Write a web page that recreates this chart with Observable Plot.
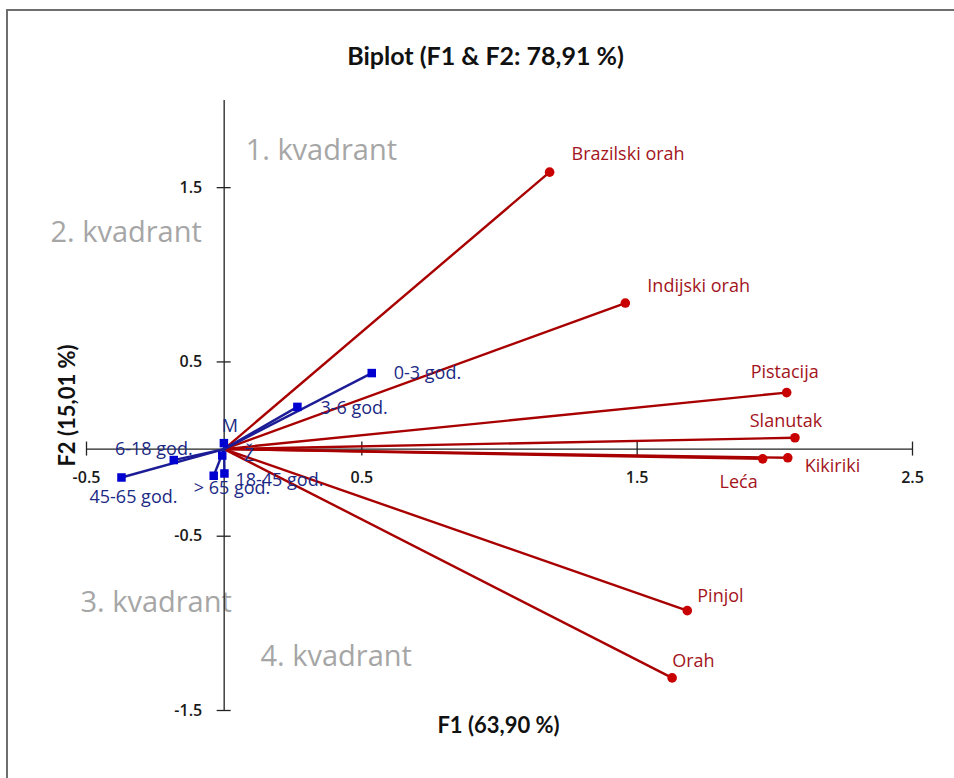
<!DOCTYPE html>
<html>
<head>
<meta charset="utf-8">
<script src="https://cdn.jsdelivr.net/npm/d3@7"></script>
<script src="https://cdn.jsdelivr.net/npm/@observablehq/plot@0.6"></script>
<style>
  html, body { margin: 0; padding: 0; background: #fff; }
  #wrap { position: relative; width: 954px; height: 778px; overflow: hidden; }
  #frame { position: absolute; left: 6px; top: 9px; width: 1000px; height: 1000px;
           border-top: 2px solid #6e6e6e; border-left: 2px solid #6e6e6e; box-sizing: border-box; }
  #chart { position: absolute; left: 0; top: 0; }
</style>
</head>
<body>
<div id="wrap"><div id="frame"></div><div id="chart"></div></div>
<script>
// ---- Data ----
const varNames = ["Brazilski orah", "Indijski orah", "Pistacija", "Slanutak", "Kikiriki", "Leća", "Pinjol", "Orah"];
const varF1    = [1.182, 1.457, 2.043, 2.073, 2.047, 1.956, 1.682, 1.627];
const varF2    = [1.589, 0.838, 0.324, 0.065, -0.050, -0.056, -0.927, -1.313];

const obsNames = ["0-3 god.", "3-6 god.", "6-18 god.", "45-65 god.", "M", "Ž", "18-45 god.", "> 65 god."];
const obsF1    = [0.536, 0.266, -0.183, -0.373, -0.001, -0.007, 0.001, -0.038];
const obsF2    = [0.436, 0.242, -0.063, -0.163, 0.034, -0.037, -0.140, -0.153];

const xTicks = [-0.5, 0.5, 1.5, 2.5];
const yTicks = [1.5, 0.5, -0.5, -1.5];

const quadrantNames = ["1. kvadrant", "2. kvadrant", "3. kvadrant", "4. kvadrant"];
const quadrantF1    = [0.078, -0.631, -0.522, 0.132];
const quadrantF2    = [1.709, 1.240, -0.881, -1.190];

const title  = "Biplot (F1 & F2: 78,91 %)";
const xLabel = "F1 (63,90 %)";
const yLabel = "F2 (15,01 %)";

// ---- Label placement (layout only) ----
const varLabelPlace = {
  "Brazilski orah": {dx: 22, dy: -18, anchor: "start"},
  "Indijski orah":  {dx: 22, dy: -17, anchor: "start"},
  "Pistacija":      {dx: -2, dy: -20, anchor: "middle"},
  "Slanutak":       {dx: -9, dy: -17, anchor: "middle"},
  "Kikiriki":       {dx: 17, dy: 8,   anchor: "start"},
  "Leća":           {dx: -5, dy: 23,  anchor: "end"},
  "Pinjol":         {dx: 10, dy: -14, anchor: "start"},
  "Orah":           {dx: 0,  dy: -17, anchor: "start"}
};
const obsLabelPlace = {
  "0-3 god.":   {dx: 22,  dy: 0,   anchor: "start"},
  "3-6 god.":   {dx: 23,  dy: 1,   anchor: "start"},
  "6-18 god.":  {dx: -20, dy: -11, anchor: "middle"},
  "45-65 god.": {dx: 12,  dy: 20,  anchor: "middle"},
  "M":          {dx: 6,   dy: -17, anchor: "middle"},
  "Ž":          {dx: 27,  dy: 0,   anchor: "middle"},
  "18-45 god.": {dx: 11,  dy: 7,   anchor: "start"},
  "> 65 god.":  {dx: -20, dy: 12,  anchor: "start"}
};

const vars = varNames.map((name, i) => ({name, x: varF1[i], y: varF2[i]}));
const obs  = obsNames.map((name, i) => ({name, x: obsF1[i], y: obsF2[i]}));
const quads = quadrantNames.map((name, i) => ({name, x: quadrantF1[i], y: quadrantF2[i]}));

const RED_LINE = "#a80000", RED_DOT = "#c80000", RED_TEXT = "#a3141c";
const BLUE_LINE = "#1c1c96", BLUE_DOT = "#0000d0", BLUE_TEXT = "#1b2a85";
const LABEL_FONT = "'Open Sans', 'Noto Sans', sans-serif";
const AXIS_FONT = "Lato, 'Open Sans', sans-serif";

const marks = [];

// quadrant annotations
marks.push(Plot.text(quads, {x: "x", y: "y", text: "name", textAnchor: "start", fill: "#a6a6a6",
  fontSize: 29, fontFamily: LABEL_FONT, lineAnchor: "middle"}));

// axes crossing at origin
marks.push(Plot.ruleY([0], {x1: xTicks[0], x2: xTicks[xTicks.length - 1], stroke: "#222", strokeWidth: 1.3}));
marks.push(Plot.ruleX([0], {y1: -1.5, y2: 2.0, stroke: "#222", strokeWidth: 1.3}));
marks.push(Plot.ruleX(xTicks, {x: d => d, y1: () => 0, y2: () => 0, insetTop: -7, insetBottom: -7, stroke: "#222", strokeWidth: 1.3}));
marks.push(Plot.ruleY(yTicks, {y: d => d, x1: () => 0, x2: () => 0, insetLeft: -7, insetRight: -7, stroke: "#222", strokeWidth: 1.3}));
marks.push(Plot.text(xTicks, {x: d => d, y: () => 0, text: d => d.toFixed(1), dy: 29,
  fontSize: 16, fontWeight: 600, fontFamily: LABEL_FONT, fill: "#1a1a1a"}));
marks.push(Plot.text(yTicks, {x: () => 0, y: d => d, text: d => d.toFixed(1), dx: -22, textAnchor: "end",
  fontSize: 16, fontWeight: 600, fontFamily: LABEL_FONT, fill: "#1a1a1a"}));

// variable vectors (red)
marks.push(Plot.link(vars, {x1: () => 0, y1: () => 0, x2: "x", y2: "y", stroke: RED_LINE, strokeWidth: 2.4}));
marks.push(Plot.dot(vars, {x: "x", y: "y", r: 4.8, fill: RED_DOT}));

// observation vectors (blue)
marks.push(Plot.link(obs, {x1: () => 0, y1: () => 0, x2: "x", y2: "y", stroke: BLUE_LINE, strokeWidth: 2.4}));
marks.push(Plot.dot(obs, {x: "x", y: "y", symbol: "square", r: 4.8, fill: BLUE_DOT}));

// labels
for (const d of vars) {
  const p = varLabelPlace[d.name];
  marks.push(Plot.text([d], {x: "x", y: "y", text: "name", dx: p.dx, dy: p.dy, textAnchor: p.anchor,
    fill: RED_TEXT, fontSize: 18, fontFamily: LABEL_FONT}));
}
for (const d of obs) {
  const p = obsLabelPlace[d.name];
  marks.push(Plot.text([d], {x: "x", y: "y", text: "name", dx: p.dx, dy: p.dy, textAnchor: p.anchor,
    fill: BLUE_TEXT, fontSize: 18, fontFamily: LABEL_FONT}));
}

// title & axis titles
marks.push(Plot.text([title], {frameAnchor: "top", dx: -14, dy: -53, fontSize: 25, fontWeight: "bold",
  fontFamily: AXIS_FONT, fill: "#111"}));
marks.push(Plot.text([xLabel], {frameAnchor: "bottom", dx: -1, dy: 22, fontSize: 22, fontWeight: "bold",
  fontFamily: AXIS_FONT, fill: "#111"}));
marks.push(Plot.text([yLabel], {frameAnchor: "left", textAnchor: "middle", dx: -19, rotate: -90, fontSize: 22,
  fontWeight: "bold", fontFamily: AXIS_FONT, fill: "#111"}));

const chart = Plot.plot({
  width: 954,
  height: 778,
  marginLeft: 86,
  marginRight: 42,
  marginTop: 100,
  marginBottom: 68,
  x: {domain: [-0.5, 2.5], axis: null},
  y: {domain: [-1.5, 2.0], axis: null},
  style: {background: "transparent", overflow: "visible"},
  marks
});
document.getElementById("chart").appendChild(chart);
</script>
</body>
</html>
